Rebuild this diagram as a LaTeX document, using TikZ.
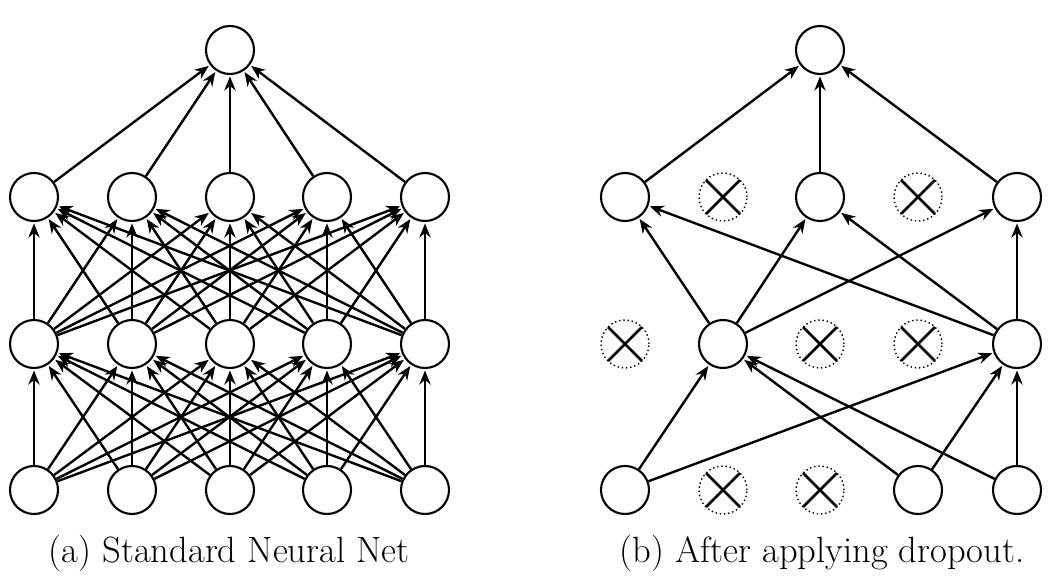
\documentclass[tikz,border=0pt]{standalone}
\usepackage{amsmath}
\usetikzlibrary{arrows.meta}

\tikzset{
  unit/.style={circle, draw, line width=1.5pt, minimum size=1.2cm, inner sep=0pt},
  dropped/.style={circle, draw, dotted, line width=1pt, minimum size=1.2cm, inner sep=0pt,
    path picture={\draw[-, solid, line width=1.8pt]
      (path picture bounding box.north west) -- (path picture bounding box.south east)
      (path picture bounding box.north east) -- (path picture bounding box.south west);}},
  caption/.style={font=\fontsize{26}{30}\selectfont}
}

\begin{document}
\begin{tikzpicture}[->,>={Stealth[length=10pt,width=8pt]},shorten >=1pt,line width=1.7pt]
  \useasboundingbox (0,0) rectangle (26.3,14.425);

  % (a) standard net
  \foreach \x [count=\i] in {0.85,3.3,5.75,8.175,10.625} {
    \node [unit] (ai\i) at (\x,2.175) {};
    \node [unit] (ah\i) at (\x,5.825) {};
    \node [unit] (ag\i) at (\x,9.5) {};
  }
  \node [unit] (ao) at (5.75,13.175) {};

  \foreach \i in {1,...,5} {
    \foreach \j in {1,...,5} {
      \draw (ai\i) -- (ah\j);
      \draw (ah\i) -- (ag\j);
    }
    \draw (ag\i) -- (ao);
  }

  % (b) after dropout
  \node [unit]    (bi1) at (15.625,2.175) {};
  \node [dropped] (bi2) at (18.075,2.175) {};
  \node [dropped] (bi3) at (20.5,2.175) {};
  \node [unit]    (bi4) at (22.95,2.175) {};
  \node [unit]    (bi5) at (25.425,2.175) {};

  \node [dropped] (bh1) at (15.625,5.825) {};
  \node [unit]    (bh2) at (18.075,5.825) {};
  \node [dropped] (bh3) at (20.5,5.825) {};
  \node [dropped] (bh4) at (22.95,5.825) {};
  \node [unit]    (bh5) at (25.425,5.825) {};

  \node [unit]    (bg1) at (15.625,9.5) {};
  \node [dropped] (bg2) at (18.075,9.5) {};
  \node [unit]    (bg3) at (20.5,9.5) {};
  \node [dropped] (bg4) at (22.95,9.5) {};
  \node [unit]    (bg5) at (25.425,9.5) {};

  \node [unit] (bo) at (20.5,13.175) {};

  \foreach \s in {1,4,5} {
    \draw (bi\s) -- (bh2);
    \draw (bi\s) -- (bh5);
  }
  \foreach \t in {1,3,5} {
    \draw (bh2) -- (bg\t);
    \draw (bh5) -- (bg\t);
    \draw (bg\t) -- (bo);
  }

  \node [caption] (capa) at (5.73,0.6) {(a) Standard Neural Net};
  \node [caption] (capb) at (20.55,0.6) {(b) After applying dropout.};
\end{tikzpicture}
\end{document}
